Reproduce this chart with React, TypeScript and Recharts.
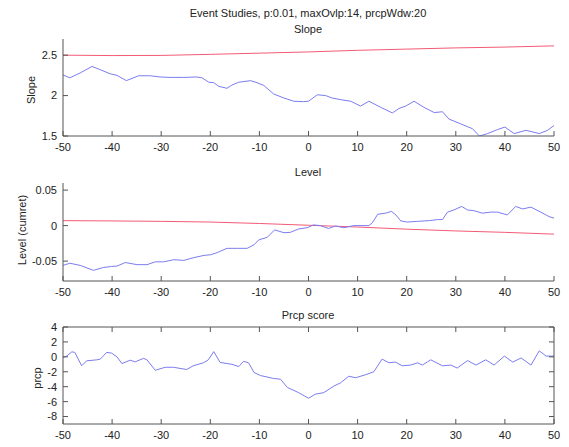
import { LineChart, Line, XAxis, YAxis } from 'recharts';

const FONT = '"Liberation Sans", Arial, Helvetica, sans-serif';
const AXIS = '#555555';
const TEXT = '#222222';
const BLUE = '#7c7cf2';
const RED = '#f45a76';

const xTicks = [-50, -40, -30, -20, -10, 0, 10, 20, 30, 40, 50];

// Slope
const slopeX = [-50, -48.6, -46.5, -44.1, -42.4, -40.4, -39, -37.1, -34.6, -32.2, -30.2, -28.2, -25.4, -22.7, -21.7, -20.3, -19.3, -18.3, -16.6, -15.6, -14.2, -11.8, -10.5, -9.1, -7.1, -5, -3, -1, 0, 1.8, 3.5, 4.8, 6.5, 8.6, 10.6, 12.3, 14.7, 17.1, 18.4, 19.8, 21.5, 23.5, 25.6, 27.3, 28.6, 31, 33.4, 34.8, 36.5, 38.5, 40, 41.9, 44.3, 47, 48.7, 50];
const slopeBlue = [2.255, 2.22, 2.28, 2.36, 2.32, 2.27, 2.25, 2.185, 2.245, 2.245, 2.23, 2.225, 2.225, 2.23, 2.22, 2.165, 2.16, 2.115, 2.09, 2.13, 2.165, 2.185, 2.16, 2.125, 2.02, 1.97, 1.93, 1.925, 1.93, 2.01, 2.0, 1.97, 1.95, 1.93, 1.87, 1.93, 1.855, 1.785, 1.84, 1.87, 1.93, 1.855, 1.79, 1.8, 1.71, 1.65, 1.59, 1.5, 1.53, 1.58, 1.61, 1.53, 1.57, 1.53, 1.57, 1.63];
const slopeRedX = [-50, -40, -30, -20, -10, 0, 10, 20, 30, 40, 50];
const slopeRed = [2.5, 2.495, 2.497, 2.51, 2.525, 2.54, 2.56, 2.575, 2.59, 2.6, 2.615];

// Level (cumret)
const levelX = [-50, -48.6, -46.5, -43.8, -41.8, -40.1, -39, -37.3, -34.9, -32.9, -31.2, -29.5, -27.4, -25.4, -23.3, -21.3, -19.9, -18.6, -16.6, -14.5, -12.5, -11.1, -10.1, -8.4, -6.9, -5, -3.7, -2, -0.3, 1, 2.4, 4.1, 5.5, 7.2, 9.2, 10.9, 12.3, 13, 14.1, 15.7, 16.9, 17.8, 18.8, 20.1, 22.2, 24.6, 26.3, 27.3, 28.3, 29.6, 31.2, 32.4, 33.7, 35.4, 37.1, 38.5, 40.5, 42.2, 43.6, 45.3, 47.3, 49, 50];
const levelBlue = [-0.056, -0.053, -0.056, -0.063, -0.059, -0.0575, -0.057, -0.052, -0.055, -0.055, -0.051, -0.051, -0.048, -0.049, -0.045, -0.042, -0.041, -0.038, -0.032, -0.032, -0.032, -0.027, -0.02, -0.0165, -0.006, -0.01, -0.0095, -0.0047, -0.003, 0.001, 0, -0.004, -0.0005, -0.003, 0, 0, 0, 0.004, 0.016, 0.0175, 0.02, 0.015, 0.0066, 0.005, 0.006, 0.007, 0.0085, 0.0085, 0.019, 0.022, 0.027, 0.022, 0.021, 0.0175, 0.019, 0.019, 0.015, 0.027, 0.0235, 0.026, 0.019, 0.0127, 0.0105];
const levelRedX = [-50, -40, -30, -20, -10, 0, 10, 20, 30, 40, 50];
const levelRed = [0.007, 0.0066, 0.006, 0.005, 0.003, 0.0005, -0.002, -0.005, -0.0075, -0.0095, -0.012];

// Prcp score
const prcpX = [-50, -49.2, -48.2, -47.6, -46.2, -45.2, -43.1, -42.4, -41.1, -40.1, -39, -38, -36.3, -35.3, -33.6, -32.9, -31.2, -29.2, -27.5, -24.8, -23.5, -21.4, -20.4, -19.3, -18, -15.6, -14.2, -13.2, -12.2, -11.1, -9.8, -7.1, -5.7, -4.3, -2, 0, 1.4, 3.1, 5.2, 6.5, 8.2, 9.6, 11.6, 13.3, 15, 16.4, 17.7, 19.1, 20.8, 22.2, 23.2, 24.9, 27.3, 29, 30.3, 32.4, 34.1, 36.1, 37.8, 39.9, 41.6, 43.3, 45.3, 47, 48.4, 50];
const prcpBlue = [-0.1, 0.13, 0.67, 0.6, -1.2, -0.53, -0.4, -0.3, 0.6, 0.5, 0, -0.9, -0.45, -0.67, -0.2, -0.4, -1.8, -1.4, -1.4, -1.7, -1.2, -0.8, -0.4, 0.7, -0.75, -1.0, -1.3, -0.6, -0.8, -2.1, -2.5, -2.9, -3.0, -4.1, -4.8, -5.55, -5.0, -4.8, -3.9, -3.5, -2.6, -2.8, -2.4, -2.0, -0.3, -0.8, -0.7, -1.2, -1.1, -0.8, -1.1, -0.4, -1.2, -1.1, -1.5, -0.5, -1.1, -0.4, -1.1, 0.1, -0.7, -0.15, -1.1, 0.8, 0.1, 0.1];

const rows = (xs: number[], ys: number[]) => xs.map((x, i) => ({ x, y: ys[i] }));

const tickStyle = { fill: TEXT, fontSize: 11, fontFamily: FONT };
const noLabel = () => <g />;

interface PanelProps {
  top: number;
  height: number;
  marginTop: number;
  marginBottom: number;
  domain: [number, number];
  yTicks: number[];
  blue: { x: number; y: number }[];
  red?: { x: number; y: number }[];
  boxed?: boolean;
}

function Panel({ top, height, marginTop, marginBottom, domain, yTicks, blue, red, boxed }: PanelProps) {
  return (
    <div style={{ position: 'absolute', left: 0, top }}>
      <LineChart
        width={569}
        height={height}
        margin={{ top: boxed ? marginTop - 1 : marginTop, right: boxed ? 14 : 15, bottom: marginBottom, left: 0 }}
      >
        <XAxis
          type="number"
          dataKey="x"
          domain={[-50, 50]}
          ticks={xTicks}
          interval={0}
          allowDataOverflow
          height={20}
          tickSize={-5}
          tickMargin={12}
          axisLine={{ stroke: AXIS }}
          tickLine={{ stroke: AXIS }}
          tick={tickStyle}
        />
        <YAxis
          type="number"
          domain={domain}
          ticks={yTicks}
          interval={0}
          allowDataOverflow
          width={63}
          tickSize={-5}
          tickMargin={11}
          axisLine={{ stroke: AXIS }}
          tickLine={{ stroke: AXIS }}
          tick={tickStyle}
        />
        {boxed && (
          <XAxis
            xAxisId="top"
            orientation="top"
            type="number"
            dataKey="x"
            domain={[-50, 50]}
            ticks={xTicks}
            interval={0}
            allowDataOverflow
            height={1}
            tickSize={-5}
            axisLine={{ stroke: AXIS }}
            tickLine={{ stroke: AXIS }}
            tick={noLabel}
          />
        )}
        {boxed && (
          <YAxis
            yAxisId="right"
            orientation="right"
            type="number"
            domain={domain}
            ticks={yTicks}
            interval={0}
            allowDataOverflow
            width={1}
            tickSize={-5}
            axisLine={{ stroke: AXIS }}
            tickLine={{ stroke: AXIS }}
            tick={noLabel}
          />
        )}
        {boxed && (
          <Line
            data={blue}
            xAxisId="top"
            yAxisId="right"
            dataKey="y"
            stroke="none"
            dot={false}
            legendType="none"
            isAnimationActive={false}
          />
        )}
        {red && (
          <Line data={red} dataKey="y" stroke={RED} strokeWidth={1} dot={false} isAnimationActive={false} />
        )}
        <Line data={blue} dataKey="y" stroke={BLUE} strokeWidth={1} dot={false} isAnimationActive={false} />
      </LineChart>
    </div>
  );
}

export default function App() {
  const txt = { fill: TEXT, fontSize: 11, fontFamily: FONT };
  return (
    <div style={{ position: 'absolute', left: 0, top: 0, width: 569, height: 447, background: '#fff', overflow: 'hidden' }}>
      <Panel
        top={0}
        height={160}
        marginTop={39}
        marginBottom={4}
        domain={[1.5, 2.7]}
        yTicks={[1.5, 2, 2.5]}
        blue={rows(slopeX, slopeBlue)}
        red={rows(slopeRedX, slopeRed)}
      />
      <Panel
        top={150}
        height={156}
        marginTop={33}
        marginBottom={5}
        domain={[-0.078, 0.06]}
        yTicks={[-0.05, 0, 0.05]}
        blue={rows(levelX, levelBlue)}
        red={rows(levelRedX, levelRed)}
      />
      <Panel
        top={295}
        height={152}
        marginTop={32}
        marginBottom={3}
        domain={[-9, 4]}
        yTicks={[-8, -6, -4, -2, 0, 2, 4]}
        blue={rows(prcpX, prcpBlue)}
        boxed
      />
      <svg width={569} height={447} style={{ position: 'absolute', left: 0, top: 0, pointerEvents: 'none' }}>
        <text x={308} y={13} textAnchor="middle" dominantBaseline="central" {...txt}>
          Event Studies, p:0.01, maxOvlp:14, prcpWdw:20
        </text>
        <text x={308} y={29} textAnchor="middle" dominantBaseline="central" {...txt}>Slope</text>
        <text x={308} y={172} textAnchor="middle" dominantBaseline="central" {...txt}>Level</text>
        <text x={308} y={315} textAnchor="middle" dominantBaseline="central" {...txt}>Prcp score</text>
        <text x={31} y={90} textAnchor="middle" dominantBaseline="central" transform="rotate(-90 31 90)" {...txt}>Slope</text>
        <text x={22} y={230} textAnchor="middle" dominantBaseline="central" transform="rotate(-90 22 230)" {...txt}>Level (cumret)</text>
        <text x={37} y={378} textAnchor="middle" dominantBaseline="central" transform="rotate(-90 37 378)" {...txt}>prcp</text>
      </svg>
    </div>
  );
}
